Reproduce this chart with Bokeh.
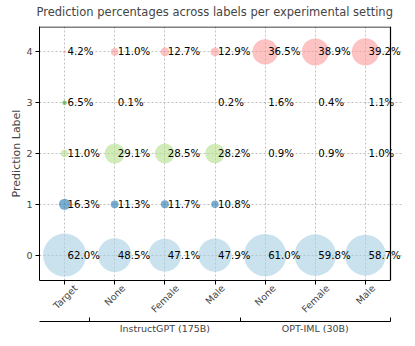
import math
from bokeh.plotting import figure
from bokeh.models import (ColumnDataSource, FixedTicker, LinearAxis, LabelSet,
                          Range1d, Title)
from bokeh.core.properties import value
from bokeh.embed import file_html
from bokeh.resources import INLINE

settings = ["Target", "None", "Female", "Male", "None", "Female", "Male"]
groups = ["InstructGPT (175B)", "OPT-IML (30B)"]
group_centers = [2, 5]
group_bounds = [0.5, 3.5, 6.5]
labels = [0, 1, 2, 3, 4]
# percentages per setting, for labels 0..4
pct_target = [62.0, 16.3, 11.0, 6.5, 4.2]
pct_igpt_none = [48.5, 11.3, 29.1, 0.1, 11.0]
pct_igpt_female = [47.1, 11.7, 28.5, 0.0, 12.7]
pct_igpt_male = [47.9, 10.8, 28.2, 0.2, 12.9]
pct_opt_none = [61.0, 0.0, 0.9, 1.6, 36.5]
pct_opt_female = [59.8, 0.0, 0.9, 0.4, 38.9]
pct_opt_male = [58.7, 0.0, 1.0, 1.1, 39.2]
label_colors = ["#a6cee3", "#1f78b4", "#b2df8a", "#33a02c", "#fb9a99"]

all_pct = [pct_target, pct_igpt_none, pct_igpt_female, pct_igpt_male,
           pct_opt_none, pct_opt_female, pct_opt_male]

xs, ys, sizes, cols, texts = [], [], [], [], []
for i, series in enumerate(all_pct):
    for lab, v in zip(labels, series):
        if v <= 0:
            continue
        xs.append(i)
        ys.append(lab)
        sizes.append(v * 0.694)
        cols.append(label_colors[lab])
        texts.append(f"{v:.1f}%")

src = ColumnDataSource(dict(x=xs, y=ys, size=sizes, color=cols, text=texts))

# layout
PX_PER_UNIT = 351 / 7.0
FRAME_H = 254
X_MIN = -0.5
X_END = len(settings) - 0.5
X_EXTRA = 0.26
FRAME_W = int(round((X_END - X_MIN + X_EXTRA) * PX_PER_UNIT))
X_MAX = X_MIN + FRAME_W / PX_PER_UNIT
Y_MIN, Y_MAX = labels[0] - 0.5, labels[-1] + 0.5
HALF_PX_Y = 0.5 * (Y_MAX - Y_MIN) / FRAME_H

p = figure(frame_width=FRAME_W, frame_height=FRAME_H, output_backend="svg",
           toolbar_location=None, x_range=Range1d(X_MIN, X_MAX),
           y_range=Range1d(Y_MIN, Y_MAX),
           title="Prediction percentages across labels per experimental setting",
           min_border=0)
p.background_fill_color = "white"
p.border_fill_color = "white"
p.outline_line_color = None
p.title.text_font = "DejaVu Sans"
p.title.text_font_size = "11.5px"
p.title.text_font_style = "normal"
p.title.align = "left"
p.title.offset = -3
p.title.standoff = 4
# small blank band above the title
p.add_layout(Title(text=" ", text_font_size="3.5px", standoff=0), "above")

for g in (p.xgrid, p.ygrid):
    g.grid_line_color = "#b0b0b0"
    g.grid_line_dash = "2 2"
    g.grid_line_width = 0.8
p.xgrid.ticker = FixedTicker(ticks=list(range(len(settings))))
p.ygrid.bounds = (X_MIN, X_END)

p.scatter("x", "y", size="size", fill_color="color", fill_alpha=0.6,
          line_color=None, source=src)

ls = LabelSet(x="x", y="y", text="text", source=src, x_offset=3,
              text_align="left", text_baseline="middle",
              text_font_size=value("10.2px"), text_font=value("DejaVu Sans"),
              text_color="black")
p.add_layout(ls)

# top and right spines of the box (frame is widened so labels can overflow)
p.segment(x0=[X_END], y0=[Y_MIN], x1=[X_END], y1=[Y_MAX],
          line_color="black", line_width=1.2)
p.segment(x0=[X_MIN], y0=[Y_MAX - HALF_PX_Y], x1=[X_END], y1=[Y_MAX - HALF_PX_Y],
          line_color="black", line_width=1.2)

# approximate DejaVu Sans advance widths (per 1000 em) to centre rotated labels
CW = {"T": 611, "a": 613, "r": 411, "g": 635, "e": 615, "t": 392, "N": 748,
      "o": 612, "n": 634, "F": 575, "m": 974, "l": 278, "M": 863}
FS = 9.5
label_pos = []
for i, s in enumerate(settings):
    L = sum(CW.get(c, 600) for c in s) / 1000.0 * FS
    label_pos.append(round(i + 0.354 * L / PX_PER_UNIT, 3))

xa = p.xaxis[0]
xa.ticker = FixedTicker(ticks=label_pos, minor_ticks=list(range(len(settings))))
xa.major_label_overrides = {pos: s for pos, s in zip(label_pos, settings)}
xa.major_label_orientation = math.pi / 4
xa.major_label_text_font = "DejaVu Sans"
xa.major_label_text_font_size = f"{FS}px"
xa.major_tick_in = 0
xa.major_tick_out = 0
xa.minor_tick_in = 0
xa.minor_tick_out = 4
xa.minor_tick_line_color = "black"
xa.axis_line_color = "black"
xa.major_label_standoff = 2
xa.bounds = (X_MIN, X_END)

ya = p.yaxis[0]
ya.ticker = FixedTicker(ticks=labels)
ya.major_label_text_font = "DejaVu Sans"
ya.major_label_text_font_size = "9.5px"
ya.major_tick_in = 0
ya.major_tick_out = 4
ya.minor_tick_line_color = None
ya.axis_label = "Prediction Label"
ya.axis_label_text_font = "DejaVu Sans"
ya.axis_label_text_font_size = "11px"
ya.axis_label_text_font_style = "normal"
ya.axis_label_standoff = 0
ya.major_label_standoff = 3

# blank band at the far left
sa = LinearAxis(ticker=FixedTicker(ticks=[]), axis_label=" ")
sa.axis_line_color = None
sa.major_tick_line_color = None
sa.minor_tick_line_color = None
sa.major_label_text_font_size = "0px"
sa.major_tick_out = 0
sa.major_label_standoff = 0
sa.axis_label_standoff = 0
sa.axis_label_text_font_size = "3.5px"
p.add_layout(sa, "left")

ga = LinearAxis(ticker=FixedTicker(ticks=group_centers, minor_ticks=group_bounds))
ga.major_label_overrides = {c: g for c, g in zip(group_centers, groups)}
ga.major_label_text_font = "DejaVu Sans"
ga.major_label_text_font_size = "9.5px"
ga.major_tick_in = 0
ga.major_tick_out = 0
ga.minor_tick_in = 4
ga.minor_tick_out = 0
ga.minor_tick_line_color = "black"
ga.axis_line_color = "black"
ga.major_label_standoff = 1
ga.bounds = (X_MIN, X_END)
p.add_layout(ga, "below")

open("out.html", "w").write(file_html(p, INLINE))
